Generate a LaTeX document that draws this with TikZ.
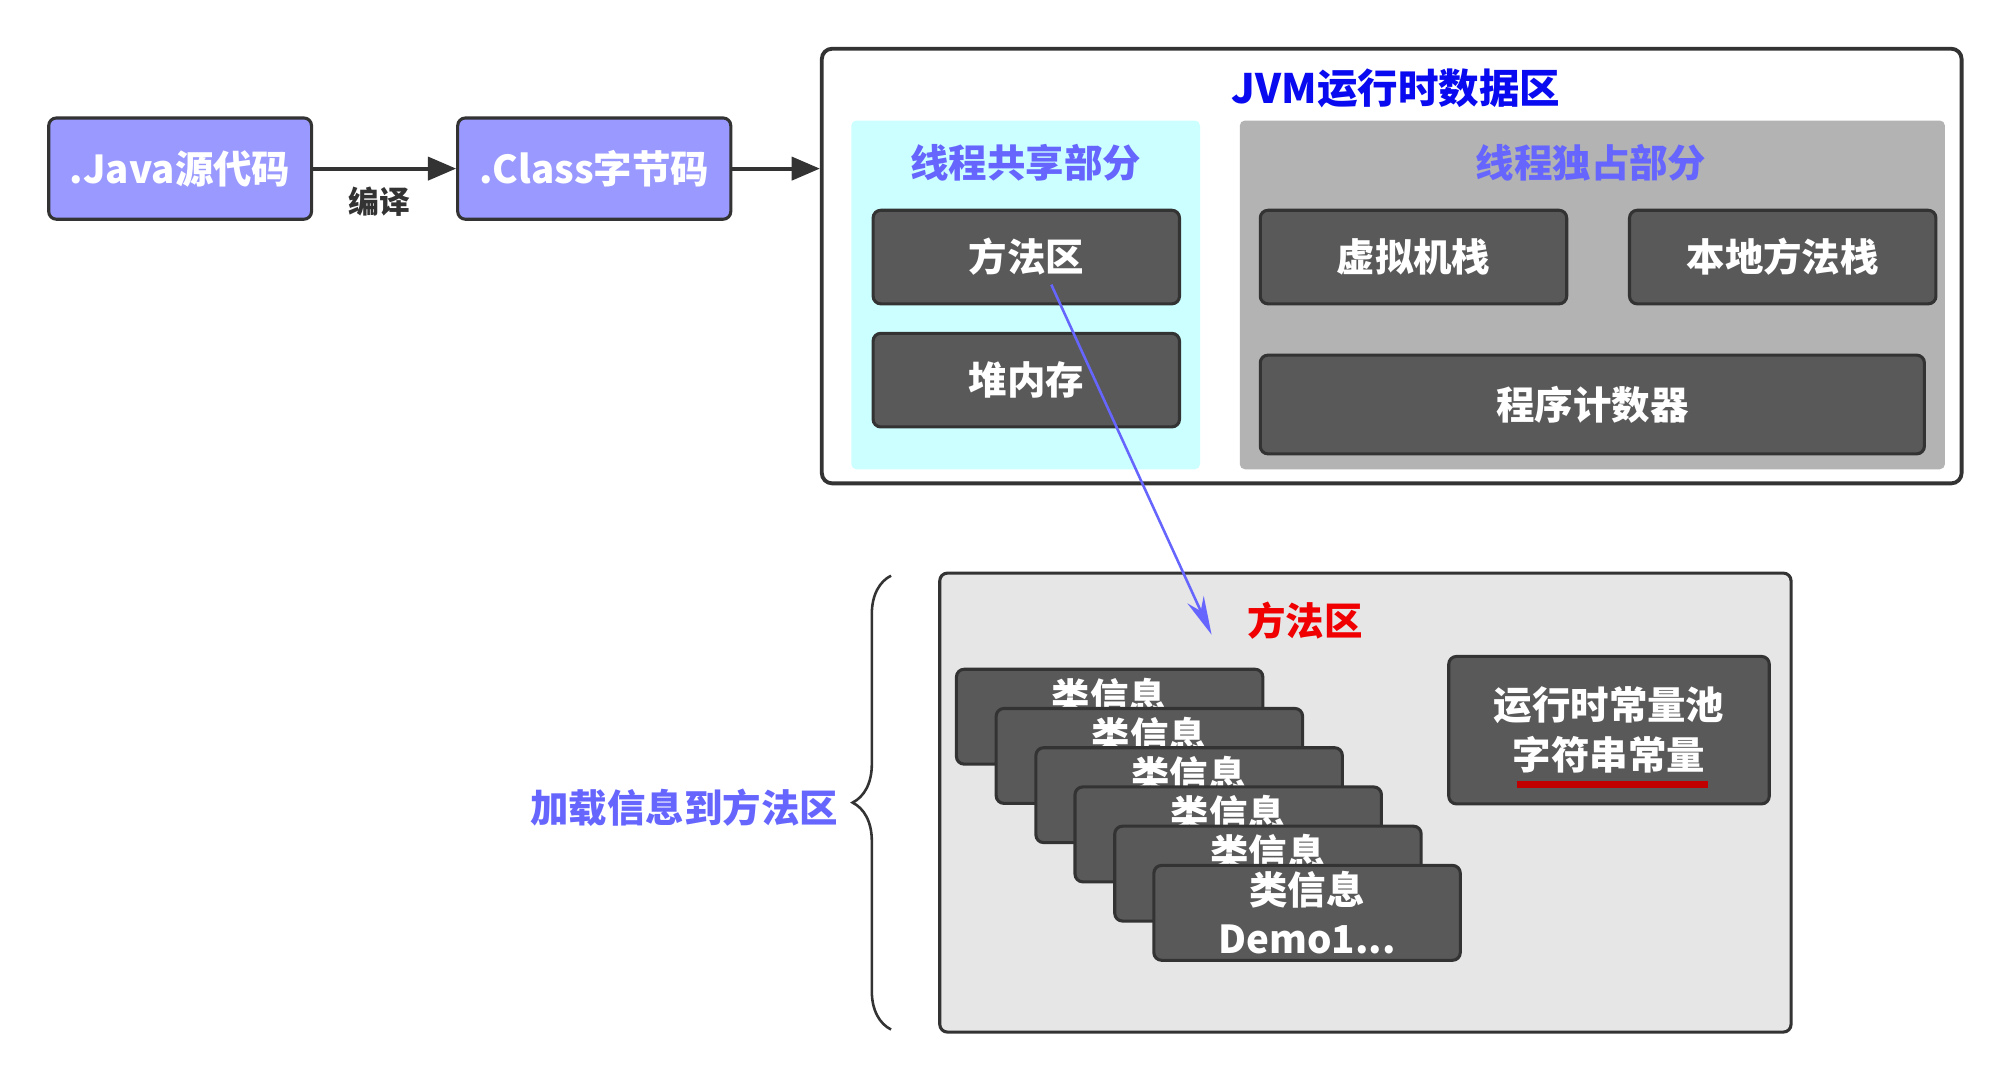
\documentclass[tikz,border=0pt]{standalone}
\usepackage{fontspec}
\setmainfont{Noto Sans CJK SC}
\usetikzlibrary{arrows.meta,decorations.pathreplacing,calc}
\definecolor{dk}{HTML}{595959}
\definecolor{edge}{HTML}{333333}
\definecolor{peri}{HTML}{9999FF}
\definecolor{lblue}{HTML}{6666FF}
\definecolor{tblue}{HTML}{0A0AF0}
\definecolor{cyanp}{HTML}{CCFFFF}
\definecolor{grayp}{HTML}{B3B3B3}
\definecolor{lowp}{HTML}{E6E6E6}
\definecolor{ured}{HTML}{C00000}
\definecolor{tred}{HTML}{F00000}
\begin{document}
\begin{tikzpicture}[x=0.5pt,y=-0.5pt,
  txt/.style={font=\fontsize{15pt}{19pt}\selectfont\bfseries},
  darkbox/.style={txt, draw=edge, fill=dk, text=white, line width=1.2pt, rounded corners=3pt, inner sep=0pt, align=center},
  srcbox/.style={txt, draw=edge, fill=peri, text=white, line width=1.2pt, rounded corners=3pt, inner sep=0pt, minimum height=39.5pt},
  panel/.style={draw=none, rounded corners=2pt, inner sep=0pt},
  flow/.style={draw=edge, line width=1.5pt, -{Triangle[length=11pt,width=9pt]}},
  lbl/.style={txt, text=lblue, inner sep=0pt},
  infobox/.style={darkbox, minimum width=119.5pt, minimum height=37pt},
  stackbox/.style={infobox, label={[txt, text=white, inner sep=0pt, text height=12.5pt, text depth=1pt, anchor=north, yshift=-4.2pt]north:类信息}}
]
\useasboundingbox (0,0) rectangle (1567,842.4);

% source chain
\node[srcbox, minimum width=102.5pt] (java) at (140.5,131.5) {.Java源代码};
\node[srcbox, minimum width=106.5pt] (class) at (463.5,131.5) {.Class字节码};
\node[font=\fontsize{12pt}{14pt}\selectfont\bfseries, text=edge, inner sep=0pt] (compile) at (296,157) {编译};

% JVM runtime data area
\node[draw=edge, fill=white, line width=1.5pt, rounded corners=4pt, minimum width=444.5pt, minimum height=169.5pt, inner sep=0pt] (jvm) at (1085.5,207.5) {};
\node[font=\fontsize{15.8pt}{20pt}\selectfont\bfseries, text=tblue, inner sep=0pt] (jvmtitle) at (1089,69) {JVM运行时数据区};

\node[panel, fill=cyanp, minimum width=136pt, minimum height=136pt] (shared) at (800,230) {};
\node[lbl] (sharedlbl) at (800,127) {线程共享部分};
\node[darkbox, minimum width=119.5pt, minimum height=36.5pt] (method) at (800.5,200.5) {方法区};
\node[darkbox, minimum width=119.5pt, minimum height=36.5pt] (heap) at (800.5,296.5) {堆内存};

\node[panel, fill=grayp, minimum width=275pt, minimum height=136pt] (private) at (1242,230) {};
\node[lbl] (privatelbl) at (1241,127) {线程独占部分};
\node[darkbox, minimum width=119.5pt, minimum height=36.5pt] (vmstack) at (1102.5,200.5) {虚拟机栈};
\node[darkbox, minimum width=119.5pt, minimum height=36.5pt] (native) at (1390.5,200.5) {本地方法栈};
\node[darkbox, minimum width=259pt, minimum height=38.5pt] (pc) at (1242,315.5) {程序计数器};

\draw[flow] (java) -- (class);
\draw[flow] (class.east) -- (class.east -| jvm.west);

% method area detail
\node[draw=edge, fill=lowp, line width=1.2pt, rounded corners=3pt, minimum width=332pt, minimum height=179pt, inner sep=0pt] (lower) at (1065,626) {};
\node[txt, text=tred, inner sep=0pt] (methodred) at (1018,484) {方法区};

\node[stackbox] (ci1) at (865.5,559) {};
\node[stackbox] (ci2) at (896.5,589.6) {};
\node[stackbox] (ci3) at (927.5,620.2) {};
\node[stackbox] (ci4) at (958,650.8) {};
\node[stackbox] (ci5) at (989,681.4) {};
\node[infobox] (ci6) at (1019.5,712) {类信息\\Demo1...};

\node[darkbox, minimum width=125pt, minimum height=57.5pt, font=\fontsize{15pt}{19.5pt}\selectfont\bfseries] (pool) at (1255,569.5) {运行时常量池\\字符串常量};
\draw[ured, line width=2.8pt] (1183,612) -- (1332,612);

% brace and label
\coordinate (brbot) at (695,803);
\coordinate (brtop) at (695,449);
\draw[edge, line width=1pt, decorate, decoration={brace, amplitude=15pt}] (brbot) -- (brtop);
\node[lbl, anchor=east] (loadlbl) at (654,630) {加载信息到方法区};

% mapping arrow
\coordinate (mstart) at (820,222);
\coordinate (mend) at (945,495);
\draw[lblue, line width=1pt, -{Stealth[length=15pt,width=7pt]}] (mstart) -- (mend);
\end{tikzpicture}
\end{document}
